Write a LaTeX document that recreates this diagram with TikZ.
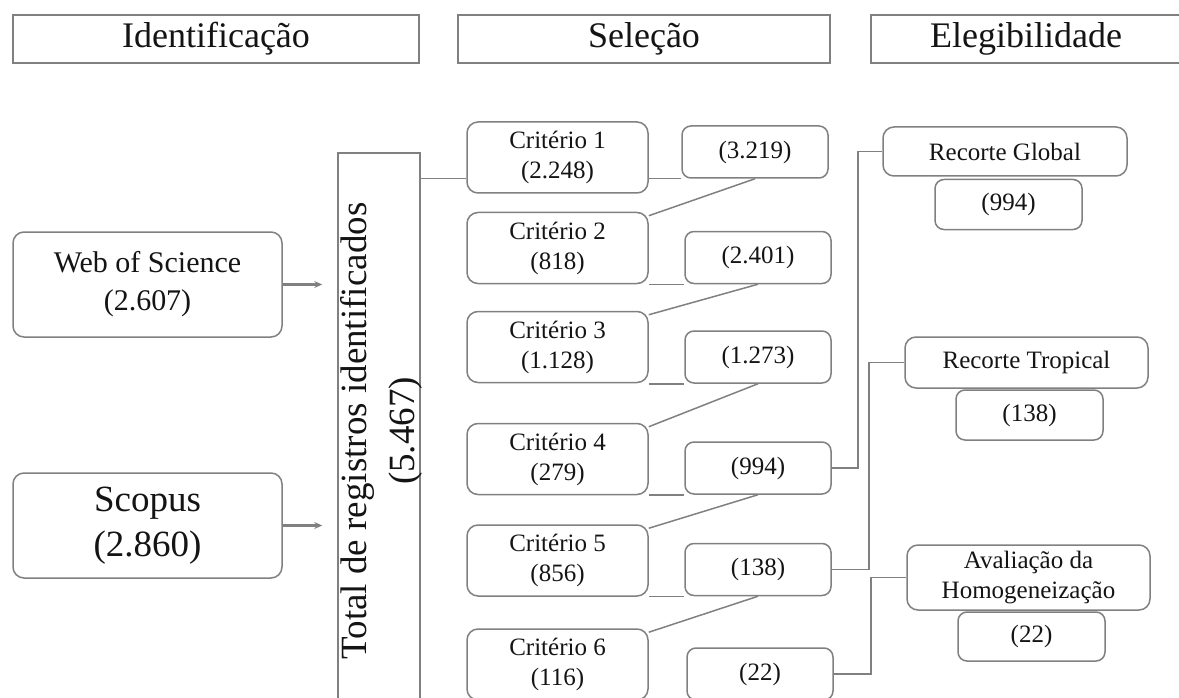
\documentclass[tikz,border=0pt]{standalone}
\usepackage{fontspec}
\setmainfont{Liberation Serif}
\usetikzlibrary{arrows.meta}
\definecolor{lc}{RGB}{128,128,128}
\definecolor{tc}{RGB}{20,20,20}
\begin{document}
\begin{tikzpicture}[x=1pt,y=-1pt,
  ln/.style={draw=lc, line width=1.5pt},
  arr/.style={draw=lc, line width=2.2pt, -{Stealth[length=8pt,width=7pt]}, shorten >=15pt},
  hbox/.style={draw=lc, line width=1.5pt, rectangle, minimum height=48pt, inner sep=0pt, text=tc, font=\fontsize{36}{40}\selectfont},
  rbox/.style={draw=lc, line width=1.5pt, rounded corners=11pt, inner sep=0pt, align=center, text=tc, font=\fontsize{25}{30}\selectfont},
  critbox/.style={rbox, minimum width=181pt, minimum height=71pt},
  numbox/.style={rbox, rounded corners=9pt, minimum width=146pt, minimum height=52pt},
  elbox/.style={rbox, minimum width=243pt},
  elnum/.style={rbox, rounded corners=9pt, minimum width=147pt, minimum height=50pt}
]
\useasboundingbox (0,0) rectangle (1179,698);

% headers
\node[hbox, minimum width=406pt] (hid) at (216,39) {Identificação};
\node[hbox, minimum width=372pt] (hsel) at (644,39) {Seleção};
\node[hbox, minimum width=310pt] (heleg) at (1026,39) {Elegibilidade};

% sources
\node[rbox, minimum width=269pt, minimum height=105pt, font=\fontsize{30}{38}\selectfont] (wos) at (147.5,284.5) {Web of Science\\(2.607)};
\node[rbox, minimum width=269pt, minimum height=105pt, font=\fontsize{37}{45}\selectfont] (sco) at (147.5,525.5) {Scopus\\(2.860)};

% total
\node[draw=lc, line width=1.5pt, rectangle, minimum width=82pt, minimum height=567pt, inner sep=0pt] (total) at (379,436.5) {};
\node[rotate=90, align=center, text=tc, inner sep=0pt, font=\fontsize{37}{48}\selectfont] (totaltext) at (381,431) {Total de registros identificados\\(5.467)};

% criteria
\node[critbox] (c1) at (557.5,157.5) {Critério 1\\(2.248)};
\node[critbox] (c2) at (557.5,248) {Critério 2\\(818)};
\node[critbox] (c3) at (557.5,347) {Critério 3\\(1.128)};
\node[critbox] (c4) at (557.5,459) {Critério 4\\(279)};
\node[critbox] (c5) at (557.5,560.5) {Critério 5\\(856)};
\node[critbox] (c6) at (557.5,664.5) {Critério 6\\(116)};

% counts
\node[numbox] (n1) at (755,152) {(3.219)};
\node[numbox] (n2) at (758,257.5) {(2.401)};
\node[numbox] (n3) at (758,357) {(1.273)};
\node[numbox] (n4) at (758,468) {(994)};
\node[numbox] (n5) at (758,569.5) {(138)};
\node[numbox] (n6) at (760,674) {(22)};

% eligibility
\node[elbox, minimum width=244pt, minimum height=49pt] (rg) at (1005,151.5) {Recorte Global};
\node[elnum] (rgn) at (1008.5,204.5) {(994)};
\node[elbox, minimum height=51pt] (rt) at (1026.5,362.5) {Recorte Tropical};
\node[elnum] (rtn) at (1029.5,415) {(138)};
\node[elbox, minimum height=65pt] (av) at (1028.5,577.5) {Avaliação da\\Homogeneização};
\node[elnum, minimum height=49pt] (avn) at (1031.5,636.5) {(22)};

% arrows from sources
\draw[arr] (wos.east) -- (wos.east -| total.west);
\draw[arr] (sco.east) -- (sco.east -| total.west);

% total to criterion 1
\draw[ln] (total.east |- n1.south) -- (c1.west |- n1.south);

% criterion -> count (horizontal) and count -> next criterion (diagonal)
\draw[ln] (c1.east |- n1.south) -- (n1.south west);
\draw[ln] (c2.east |- n2.south) -- (n2.south west);
\draw[ln] (c3.east |- n3.south) -- (n3.south west);
\draw[ln] (c4.east |- n4.south) -- (n4.south west);
\draw[ln] (c5.east |- n5.south) -- (n5.south west);

\draw[ln] (n1.south) -- ([yshift=-4pt]c2.north east);
\draw[ln] (n2.south) -- ([yshift=-4pt]c3.north east);
\draw[ln] (n3.south) -- ([yshift=-4pt]c4.north east);
\draw[ln] (n4.south) -- ([yshift=-4pt]c5.north east);
\draw[ln] (n5.south) -- ([yshift=-4pt]c6.north east);

% to eligibility
\draw[ln] (n4.east) -- ++(26,0) |- (rg.west);
\draw[ln] (n5.east) -- ++(37,0) |- (rt.west);
\draw[ln] (n6.east) -- ++(37,0) |- (av.west);
\end{tikzpicture}
\end{document}
